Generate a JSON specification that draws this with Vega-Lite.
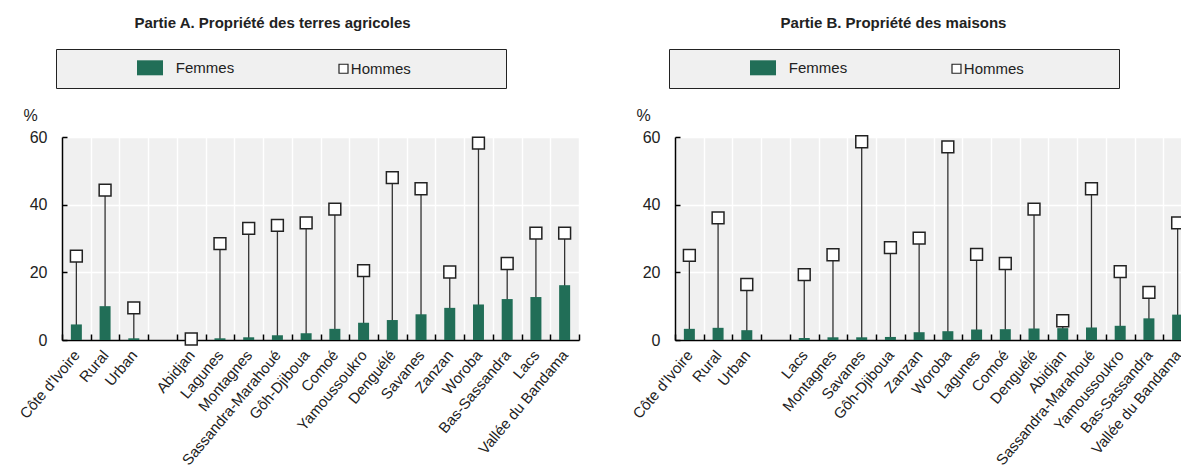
{
  "$schema": "https://vega.github.io/schema/vega-lite/v6.json",
  "background": "white",
  "padding": {"left": 17, "top": 15, "right": 0, "bottom": 0},
  "datasets": {
    "terres": [
      {"region": "Côte d'Ivoire", "Femmes": 4.6, "Hommes": 24.8},
      {"region": "Rural", "Femmes": 10.0, "Hommes": 44.3},
      {"region": "Urban", "Femmes": 0.5, "Hommes": 9.5},
      {"region": "Abidjan", "Femmes": 0.0, "Hommes": 0.3},
      {"region": "Lagunes", "Femmes": 0.5, "Hommes": 28.5},
      {"region": "Montagnes", "Femmes": 0.8, "Hommes": 33.0},
      {"region": "Sassandra-Marahoué", "Femmes": 1.4, "Hommes": 33.9},
      {"region": "Gôh-Djiboua", "Femmes": 2.0, "Hommes": 34.6},
      {"region": "Comoé", "Femmes": 3.3, "Hommes": 38.7},
      {"region": "Yamoussoukro", "Femmes": 5.1, "Hommes": 20.5},
      {"region": "Denguélé", "Femmes": 5.9, "Hommes": 48.0},
      {"region": "Savanes", "Femmes": 7.6, "Hommes": 44.7},
      {"region": "Zanzan", "Femmes": 9.5, "Hommes": 20.1},
      {"region": "Woroba", "Femmes": 10.5, "Hommes": 58.2},
      {"region": "Bas-Sassandra", "Femmes": 12.1, "Hommes": 22.6},
      {"region": "Lacs", "Femmes": 12.7, "Hommes": 31.6},
      {"region": "Vallée du Bandama", "Femmes": 16.2, "Hommes": 31.6}
    ],
    "maisons": [
      {"region": "Côte d'Ivoire", "Femmes": 3.3, "Hommes": 25.0},
      {"region": "Rural", "Femmes": 3.6, "Hommes": 36.1},
      {"region": "Urban", "Femmes": 2.9, "Hommes": 16.4},
      {"region": "Lacs", "Femmes": 0.6, "Hommes": 19.3},
      {"region": "Montagnes", "Femmes": 0.8, "Hommes": 25.2},
      {"region": "Savanes", "Femmes": 0.8, "Hommes": 58.6},
      {"region": "Gôh-Djiboua", "Femmes": 0.9, "Hommes": 27.3},
      {"region": "Zanzan", "Femmes": 2.3, "Hommes": 30.1},
      {"region": "Woroba", "Femmes": 2.6, "Hommes": 57.1},
      {"region": "Lagunes", "Femmes": 3.1, "Hommes": 25.3},
      {"region": "Comoé", "Femmes": 3.2, "Hommes": 22.6},
      {"region": "Denguélé", "Femmes": 3.4, "Hommes": 38.7},
      {"region": "Abidjan", "Femmes": 3.5, "Hommes": 5.7},
      {"region": "Sassandra-Marahoué", "Femmes": 3.7, "Hommes": 44.7},
      {"region": "Yamoussoukro", "Femmes": 4.2, "Hommes": 20.2},
      {"region": "Bas-Sassandra", "Femmes": 6.4, "Hommes": 14.1},
      {"region": "Vallée du Bandama", "Femmes": 7.5, "Hommes": 34.6}
    ]
  },
  "spacing": 50,
  "resolve": {"scale": {"color": "independent"}, "legend": {"color": "independent"}},
  "hconcat": [
    {
      "title": {"text": "Partie A. Propriété des terres agricoles", "dx": -48},
      "width": 517,
      "height": 203,
      "data": {"name": "terres"},
      "encoding": {
        "x": {
          "field": "region", "type": "nominal",
          "scale": {"domain": ["Côte d'Ivoire", "Rural", "Urban", " ", "Abidjan", "Lagunes", "Montagnes", "Sassandra-Marahoué", "Gôh-Djiboua", "Comoé", "Yamoussoukro", "Denguélé", "Savanes", "Zanzan", "Woroba", "Bas-Sassandra", "Lacs", "Vallée du Bandama"], "paddingInner": 0, "paddingOuter": 0},
          "axis": {"title": null, "labelAngle": -50, "tickBand": "extent", "grid": true, "tickSize": -6, "labelPadding": 18, "labelFontSize": 15, "labelLimit": 300}
        }
      },
      "layer": [
        {
          "mark": {"type": "rule", "color": "#333333", "strokeWidth": 1.3},
          "encoding": {
            "y": {"field": "Hommes", "type": "quantitative", "scale": {"domain": [0, 60]},
              "axis": {"title": "%", "titleAngle": 0, "titleX": -32, "titleY": -14, "titleAlign": "center", "titleBaseline": "bottom", "titleFontWeight": "normal", "titleFontSize": 16, "titleColor": "#222222", "values": [0, 20, 40, 60], "tickSize": -5, "labelPadding": 20, "labelFontSize": 16, "grid": true}},
            "y2": {"datum": 0}
          }
        },
        {
          "mark": {"type": "bar", "width": 11},
          "encoding": {
            "y": {"field": "Femmes", "type": "quantitative"},
            "color": {
              "datum": "Femmes", "type": "nominal",
              "scale": {"domain": ["Femmes", "Hommes"], "range": ["#216e57", "#ffffff"]},
              "legend": {
                "orient": "none", "legendX": -6, "legendY": -88, "direction": "horizontal",
                "title": "\u00a0", "titleOrient": "left", "titleFontSize": 1, "titlePadding": 70,
                "fillColor": "#f0f0f0", "strokeColor": "#222222", "padding": 10,
                "symbolSize": 225, "labelFontSize": 15, "labelColor": "#222222", "labelOffset": 22.8,
                "columnPadding": 76, "labelLimit": 400,
                "encode": {"symbols": {"update": {
                  "shape": {"signal": "datum.value == 'Femmes' ? 'M-1,-1H2.467V1H-1Z' : 'M2.6,-0.6H3.8V0.6H2.6Z M23.1,0'"},
                  "stroke": {"signal": "datum.value == 'Femmes' ? 'transparent' : '#222222'"},
                  "strokeWidth": {"value": 1.2}
                }}}
              }
            }
          }
        },
        {
          "mark": {"type": "point", "shape": "square", "filled": true, "size": 140, "stroke": "#222222", "strokeWidth": 1.5, "opacity": 1},
          "encoding": {
            "y": {"field": "Hommes", "type": "quantitative"},
            "color": {"datum": "Hommes", "type": "nominal"}
          }
        }
      ]
    },
    {
      "title": {"text": "Partie B. Propriété des maisons", "dx": -40},
      "width": 517,
      "height": 203,
      "data": {"name": "maisons"},
      "encoding": {
        "x": {
          "field": "region", "type": "nominal",
          "scale": {"domain": ["Côte d'Ivoire", "Rural", "Urban", " ", "Lacs", "Montagnes", "Savanes", "Gôh-Djiboua", "Zanzan", "Woroba", "Lagunes", "Comoé", "Denguélé", "Abidjan", "Sassandra-Marahoué", "Yamoussoukro", "Bas-Sassandra", "Vallée du Bandama"], "paddingInner": 0, "paddingOuter": 0},
          "axis": {"title": null, "labelAngle": -50, "tickBand": "extent", "grid": true, "tickSize": -6, "labelPadding": 18, "labelFontSize": 15, "labelLimit": 300}
        }
      },
      "layer": [
        {
          "mark": {"type": "rule", "color": "#333333", "strokeWidth": 1.3},
          "encoding": {
            "y": {"field": "Hommes", "type": "quantitative", "scale": {"domain": [0, 60]},
              "axis": {"title": "%", "titleAngle": 0, "titleX": -32, "titleY": -14, "titleAlign": "center", "titleBaseline": "bottom", "titleFontWeight": "normal", "titleFontSize": 16, "titleColor": "#222222", "values": [0, 20, 40, 60], "tickSize": -5, "labelPadding": 20, "labelFontSize": 16, "grid": true}},
            "y2": {"datum": 0}
          }
        },
        {
          "mark": {"type": "bar", "width": 11},
          "encoding": {
            "y": {"field": "Femmes", "type": "quantitative"},
            "color": {
              "datum": "Femmes", "type": "nominal",
              "scale": {"domain": ["Femmes", "Hommes"], "range": ["#216e57", "#ffffff"]},
              "legend": {
                "orient": "none", "legendX": -6, "legendY": -88, "direction": "horizontal",
                "title": "\u00a0", "titleOrient": "left", "titleFontSize": 1, "titlePadding": 70,
                "fillColor": "#f0f0f0", "strokeColor": "#222222", "padding": 10,
                "symbolSize": 225, "labelFontSize": 15, "labelColor": "#222222", "labelOffset": 22.8,
                "columnPadding": 76, "labelLimit": 400,
                "encode": {"symbols": {"update": {
                  "shape": {"signal": "datum.value == 'Femmes' ? 'M-1,-1H2.467V1H-1Z' : 'M2.6,-0.6H3.8V0.6H2.6Z M23.1,0'"},
                  "stroke": {"signal": "datum.value == 'Femmes' ? 'transparent' : '#222222'"},
                  "strokeWidth": {"value": 1.2}
                }}}
              }
            }
          }
        },
        {
          "mark": {"type": "point", "shape": "square", "filled": true, "size": 140, "stroke": "#222222", "strokeWidth": 1.5, "opacity": 1},
          "encoding": {
            "y": {"field": "Hommes", "type": "quantitative"},
            "color": {"datum": "Hommes", "type": "nominal"}
          }
        }
      ]
    }
  ],
  "config": {
    "font": "Liberation Sans",
    "view": {"fill": "#f0f0f0", "stroke": null},
    "axis": {"domainColor": "#000000", "domainWidth": 1.5, "tickColor": "#000000", "tickWidth": 1.5, "labelColor": "#222222", "gridColor": "#ffffff", "gridWidth": 1.5, "gridOpacity": 1},
    "title": {"fontSize": 15, "fontWeight": "bold", "color": "#222222", "anchor": "middle", "offset": 18}
  }
}
